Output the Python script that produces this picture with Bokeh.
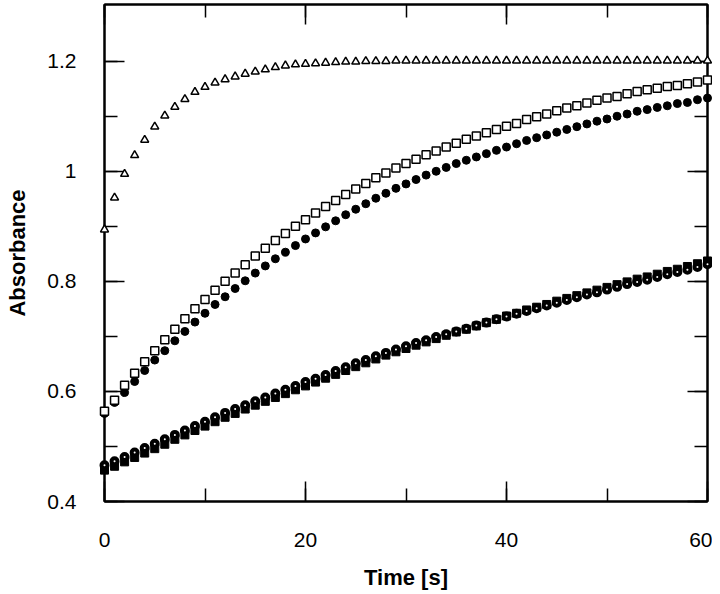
from bokeh.plotting import figure
from bokeh.models import (Range1d, FixedTicker, LinearAxis, NumeralTickFormatter,
                          ColumnDataSource, CustomJSTickFormatter)
from bokeh.embed import file_html
from bokeh.resources import INLINE

time_s = list(range(0, 61))

tri_open = [0.894, 0.952, 0.995, 1.029, 1.057, 1.081, 1.101, 1.117, 1.131, 1.144,
            1.153, 1.161, 1.167, 1.172, 1.177, 1.181, 1.185, 1.189, 1.192, 1.194,
            1.195, 1.196, 1.197, 1.198, 1.199, 1.199, 1.200, 1.200, 1.200, 1.201,
            1.201, 1.201, 1.201, 1.201, 1.201, 1.201, 1.201, 1.201, 1.201, 1.201,
            1.201, 1.201, 1.201, 1.201, 1.201, 1.201, 1.201, 1.201, 1.201, 1.201,
            1.201, 1.201, 1.201, 1.201, 1.201, 1.201, 1.201, 1.201, 1.201, 1.201,
            1.201]

sq_open = [0.564, 0.584, 0.611, 0.633, 0.654, 0.674, 0.694, 0.713, 0.732, 0.750,
           0.767, 0.784, 0.800, 0.815, 0.830, 0.846, 0.860, 0.874, 0.887, 0.900,
           0.912, 0.924, 0.936, 0.947, 0.958, 0.968, 0.978, 0.988, 0.997, 1.006,
           1.014, 1.022, 1.030, 1.037, 1.044, 1.051, 1.058, 1.064, 1.070, 1.076,
           1.082, 1.087, 1.094, 1.099, 1.104, 1.110, 1.115, 1.119, 1.124, 1.129,
           1.133, 1.136, 1.141, 1.145, 1.148, 1.151, 1.154, 1.156, 1.159, 1.162,
           1.166]

circ_filled = [0.560, 0.580, 0.598, 0.618, 0.638, 0.657, 0.674, 0.692, 0.709, 0.726,
               0.742, 0.758, 0.772, 0.787, 0.801, 0.815, 0.828, 0.841, 0.853, 0.865,
               0.877, 0.888, 0.899, 0.910, 0.921, 0.931, 0.941, 0.951, 0.960, 0.969,
               0.977, 0.985, 0.993, 1.000, 1.007, 1.014, 1.020, 1.026, 1.032, 1.038,
               1.044, 1.050, 1.056, 1.061, 1.066, 1.071, 1.076, 1.081, 1.086, 1.091,
               1.095, 1.100, 1.104, 1.109, 1.112, 1.116, 1.119, 1.123, 1.125, 1.130,
               1.133]

sq_filled = [0.457, 0.464, 0.472, 0.480, 0.488, 0.496, 0.504, 0.513, 0.521, 0.529,
             0.537, 0.545, 0.553, 0.560, 0.568, 0.575, 0.582, 0.589, 0.596, 0.603,
             0.610, 0.617, 0.624, 0.631, 0.638, 0.645, 0.652, 0.659, 0.666, 0.672,
             0.678, 0.684, 0.690, 0.696, 0.702, 0.708, 0.713, 0.719, 0.725, 0.731,
             0.737, 0.742, 0.748, 0.753, 0.758, 0.764, 0.769, 0.774, 0.779, 0.784,
             0.789, 0.794, 0.799, 0.804, 0.808, 0.813, 0.818, 0.822, 0.827, 0.832,
             0.837]

circ_open = [0.466, 0.473, 0.481, 0.489, 0.497, 0.505, 0.513, 0.521, 0.529, 0.537,
             0.545, 0.553, 0.561, 0.568, 0.575, 0.582, 0.589, 0.596, 0.603, 0.610,
             0.617, 0.623, 0.630, 0.637, 0.644, 0.651, 0.657, 0.664, 0.670, 0.676,
             0.682, 0.688, 0.693, 0.699, 0.704, 0.709, 0.714, 0.720, 0.725, 0.731,
             0.736, 0.741, 0.746, 0.751, 0.756, 0.761, 0.766, 0.771, 0.776, 0.780,
             0.785, 0.790, 0.795, 0.799, 0.803, 0.808, 0.813, 0.817, 0.821, 0.826,
             0.831]

x_major = [0, 20, 40, 60]
x_minor = [0, 10, 20, 30, 40, 50, 60]
y_major = [0.4, 0.6, 0.8, 1.0, 1.2]
y_minor = [0.4, 0.5, 0.6, 0.7, 0.8, 0.9, 1.0, 1.1, 1.2]

FONT = "Liberation Sans"

p = figure(width=712, height=592, x_range=Range1d(0, 60), y_range=Range1d(0.4, 1.303),
           output_backend="svg", toolbar_location=None,
           min_border_left=104, min_border_right=5, min_border_top=4, min_border_bottom=91,
           x_axis_label="Time [s]", y_axis_label="Absorbance")
p.grid.visible = False
p.outline_line_color = "black"
p.outline_line_width = 2
p.background_fill_color = "white"
p.border_fill_color = "white"

xt = FixedTicker(ticks=x_major, minor_ticks=x_minor)
yt = FixedTicker(ticks=y_major, minor_ticks=y_minor)
blank = CustomJSTickFormatter(code="return '';")


def style(ax, show_labels):
    ax.axis_line_color = "black"
    ax.axis_line_width = 2
    ax.major_tick_in = 20
    ax.major_tick_out = 0
    ax.minor_tick_in = 13
    ax.minor_tick_out = 0
    ax.major_tick_line_width = 1.5
    ax.minor_tick_line_width = 1.5
    ax.major_tick_line_color = "black"
    ax.minor_tick_line_color = "black"
    if show_labels:
        ax.major_label_text_font = FONT
        ax.major_label_text_font_size = "21px"
        ax.major_label_text_color = "black"
        ax.axis_label_text_font = FONT
        ax.axis_label_text_font_size = "22px"
        ax.axis_label_text_font_style = "bold"
        ax.axis_label_text_color = "black"
    else:
        ax.formatter = blank
        ax.major_label_standoff = 0


p.xaxis.ticker = xt
p.yaxis.ticker = yt
p.yaxis.formatter = NumeralTickFormatter(format="0.[0]")
style(p.xaxis[0], True)
style(p.yaxis[0], True)
p.xaxis.major_label_standoff = 31
p.xaxis.axis_label_standoff = 15
p.yaxis.major_label_standoff = 28
p.yaxis.axis_label_standoff = 14

top = LinearAxis(ticker=xt)
style(top, False)
p.add_layout(top, "above")
right = LinearAxis(ticker=yt)
style(right, False)
p.add_layout(right, "right")

src = ColumnDataSource(dict(t=time_s, tri=tri_open, sqo=sq_open, cf=circ_filled,
                            sqf=sq_filled, co=circ_open))

rs = []
rs.append(p.scatter("t", "sqf", source=src, marker="square", size=8, fill_color="black",
                    line_color="black", line_width=1))
rs.append(p.scatter("t", "co", source=src, marker="circle", size=6, fill_color="white",
                    line_color="black", line_width=4))
rs.append(p.scatter("t", "cf", source=src, marker="circle", size=8, fill_color="black",
                    line_color="black", line_width=1))
rs.append(p.scatter("t", "sqo", source=src, marker="square", size=8, fill_color="white",
                    line_color="black", line_width=1.5))
rs.append(p.scatter("t", "tri", source=src, marker="triangle", size=8, fill_color="white",
                    line_color="black", line_width=1.5))
for r in rs:
    r.level = "overlay"

open("out.html", "w").write(file_html(p, INLINE))
